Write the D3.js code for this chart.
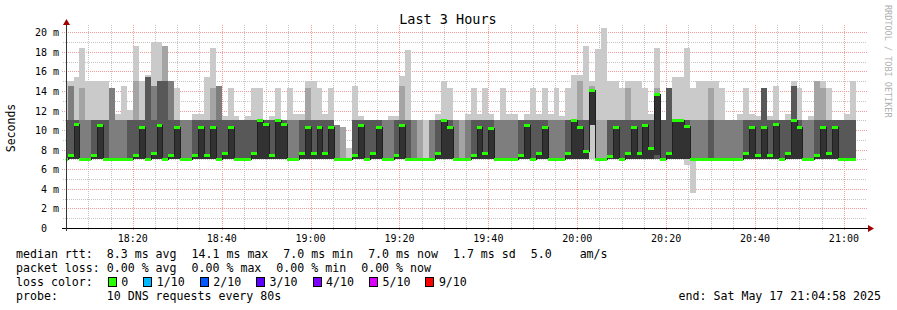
<!DOCTYPE html>
<html>
<head>
<meta charset="utf-8">
<script src="https://cdn.jsdelivr.net/npm/d3@7"></script>
<style>
  body { margin: 0; background: #fff; }
  text { font-family: "DejaVu Sans Mono", monospace; fill: #000; }
</style>
</head>
<body>
<svg id="chart" width="897" height="310"></svg>
<script>
// median rtt per 80s step (ms), 18:04 .. 21:02
const median = [
  7.0,7.5,10.6,7.0,7.0,7.5,10.5,7.0,7.0,7.0,
  7.0,7.0,7.5,10.3,7.0,7.7,10.5,7.0,7.5,10.3,
  7.0,7.0,7.5,10.3,7.5,10.3,7.0,7.7,10.3,7.0,
  7.0,7.0,7.7,11.0,10.6,7.5,11.0,10.6,7.0,7.0,
  7.7,10.3,7.7,10.3,7.7,10.3,7.0,7.0,7.0,7.5,
  10.5,7.0,7.7,10.3,7.0,7.0,7.5,10.5,7.0,7.0,
  7.0,7.0,7.0,7.7,11.0,10.3,7.0,7.0,7.0,7.5,
  10.3,7.7,10.2,7.0,7.0,7.0,7.0,7.5,10.5,7.0,
  7.7,10.3,7.0,7.0,7.0,7.7,11.0,10.3,7.9,14.1,
  7.0,7.0,7.4,10.3,7.0,7.7,10.3,7.7,10.5,8.2,
  13.7,7.0,7.7,11.0,11.0,10.4,7.0,7.0,7.0,7.0,
  7.0,7.0,7.0,7.0,7.0,7.7,10.3,7.5,10.3,7.5,
  10.6,7.0,7.7,11.0,10.3,7.0,7.0,7.5,10.3,7.7,
  10.3,7.0,7.0,7.0
];

// sorted ping values per step (ms), ping1 = fastest .. ping10 = slowest
const ping1 = [
  7,7,7,7,7,7,7,7,7,7, 7,7,7,7,7,7,7,7,7,7, 7,7,7,7,7,7,7,7,7,7,
  7,7,7,7,7,7,7,7,7,7, 7,7,7,7,7,7,7,7,7,7, 7,7,7,7,7,7,7,7,7,7,
  7,7,7,7,7,7,7,7,7,7, 7,7,7,7,7,7,7,7,7,7, 7,7,7,7,7,7,7,7,7,7,
  7,7,7,7,7,7,7,7,7,7, 7,7,7,7,7,6.4,3.6,7,7,7, 7,7,7,7,7,7,7,7,7,7,
  7,7,7,7,7,7,7,7,7,7, 7,7,7,7
];
const ping2 = [
  7,7,7,7,7,7,7,7,7,7, 7,7,7,7,7,7,7,7,7,7, 7,7,7,7,7,7,7,7,7,7,
  7,7,7,7,7,7,7,7,7,7, 7,7,7,7,7,7,7,7,7,7, 7,7,7,7,7,7,7,7,7,7,
  7,7,7,7,7,7,7,7,7,7, 7,7,7,7,7,7,7,7,7,7, 7,7,7,7,7,7,7,7,7,10.5,
  7,7,7,7,7,7,7,7,7,7, 7,7,7,7,7,7,7,7,7,7, 7,7,7,7,7,7,7,7,7,7,
  7,7,7,7,7,7,7,7,7,7, 7,7,7,7
];
const ping3 = ping2.slice();
const ping4 = ping2.slice();
const ping5 = [
  7,7,7,7,7,7,7,7,7,7, 7,7,7,7,7,7,7,7,7,7, 7,7,7,7,7,7,7,7,7,7,
  7,7,7,7,7,7,7,7,7,7, 7,7,7,7,7,7,7,7,7,7, 7,7,7,7,7,7,7,7,7,7,
  7,7,7,7,7,7,7,7,7,7, 7,7,7,7,7,7,7,7,7,7, 7,7,7,7,7,7,7,7,7,10.5,
  7,7,7,7,7,7,7,7,7,7, 7.5,7,7,7,7,7,7,7,7,7, 7,7,7,7,7,7,7,7,7,7,
  7,7,7,7,7,7,7,7,7,7, 7,7,7,7
];
const ping6 = median.slice();
const ping7 = [
  11,11,11,7,7,11,11,11,7,7,
  7,11,11,11,15.4,11,15,15,11,11,
  7,7,11,11,11,11,11,11,11,11,
  11,11,11,11,11,11,11,11,7,7,
  11,11,11,11,11,11,7,7,7,11,
  11,11,11,11,7,7,11,11,11,7,
  7,7,7,11,11,11,7,7,7,11,
  11,11,11,7,7,7,7,11,11,11,
  11,11,7,7,7,11,11,11,11,14.1,
  7,7,11,11,11,11,11,11,11,11,
  13.7,11,14.3,11,11,11,7,7,7,11,
  7,7,7,7,7,11,11,11,14.3,11,
  11,11,11,14.5,11,7,7,11,11,11,
  11,11,11,11
];
const ping8 = [
  11,14.5,11,11,11,11,11,11,14.3,11,
  11,11,11,11,15.4,14.5,15,15,15,11,
  11,11,11,11,11,11,14.5,11,11,11,
  11,11,11,11,11,11,11,11,11,11,
  11,11,11,11,11,11,10.5,7,7,11,
  11,11,11,11,11,11,11,11,11,11,
  7,7,11,11,11,11,11,7,11,11,
  11,11,11,11,11,11,11,11,11,11,
  11,11,11,11,11,11,11,11,11,14.1,
  7,7,11,11,11,11,11,11,11,11,
  13.7,11,14.3,11,11,11,11,11,11,11,
  11,11,11,11,11,11,11,11,14.3,11,
  11,11,11,14.5,11,11,11,11,11,11,
  11,11,11,11
];
const ping9 = [
  11,14.5,11,14.3,11,11,11,11,14.3,11,
  11,11,15,11,15.4,14.5,15,18.6,15,11,
  11,11,11,11,11,14.3,14.5,11,11,11,
  11,11,11,11,11,11,11,11,11,11,
  11,14.3,11,11,11,11,10.5,10.3,7,11,
  11,11,11,11,11,11,11,14.5,11,11,
  11,7,11,11,11,11,11,11,11,11,
  11,11,11,11,11,11,11,11,11,11,
  11,11,11,11,11,11,11,15,11,14.5,
  11,11,11,11,11,14.3,11,11,11,11,
  14.3,11,14.3,11,11,11,11,11,11,14.3,
  11,11,11,11,11,11,11,11,14.3,11,
  11,11,11,14.5,11,11,11,15,14.3,11,
  11,11,11,11
];
const ping10 = [
  15.0,15.0,15.4,18.4,15.0,15.0,15.0,15.0,14.3,11.6,
  14.5,12.1,18.6,15.0,15.6,19.0,19.0,18.6,15.0,14.3,
  11.0,11.0,11.6,11.6,15.4,18.4,14.5,11.4,14.3,11.4,
  11.0,11.4,14.3,14.3,11.0,11.4,14.3,11.0,14.3,11.6,
  11.6,15.0,15.0,14.3,11.6,14.3,10.5,10.3,8.2,14.5,
  11.4,11.0,11.0,11.0,11.0,11.4,11.4,15.5,18.2,11.0,
  11.0,11.0,11.0,11.6,15.0,14.3,11.0,11.0,11.6,14.3,
  11.6,14.3,11.6,11.0,14.3,11.6,11.6,11.0,11.6,14.3,
  11.6,14.3,11.6,14.3,11.4,14.3,15.6,15.6,18.6,15.0,
  18.3,20.4,15.0,15.0,14.3,15.0,15.0,15.0,14.3,11.6,
  18.4,11.0,14.3,15.4,15.4,18.4,14.3,15.0,15.0,15.0,
  15.0,14.3,11.0,11.0,11.6,14.3,11.6,11.4,14.3,11.4,
  14.5,11.0,11.6,15.0,14.3,11.0,11.4,15.0,15.0,14.3,
  11.0,11.0,11.6,15.0
];

const yTicks = [0, 2, 4, 6, 8, 10, 12, 14, 16, 18, 20];
const lossLabels = ['0', '1/10', '2/10', '3/10', '4/10', '5/10', '9/10'];
const lossColors = ['#26ff00', '#00b8ff', '#0059ff', '#5e00ff', '#7e00ff', '#dd00ff', '#ff0000'];
const statsRtt = ['median rtt:  8.3 ms avg', '14.1 ms max', '7.0 ms min', '7.0 ms now', '1.7 ms sd', '5.0    am/s'];
const statsLoss = ['packet loss: 0.00 % avg', '0.00 % max', '0.00 % min', '0.00 % now'];

const svg = d3.select('#chart');
const left = 66, right = 866, bottom = 228;
const tStart = new Date(2025, 4, 17, 18, 4, 58);
const tEnd = new Date(2025, 4, 17, 21, 4, 58);
const firstStep = new Date(2025, 4, 17, 18, 4, 0);
const stepMs = 80 * 1000;

const x = d3.scaleTime().domain([tStart, tEnd]).range([left, right]);
const y = d3.scaleLinear().domain([0, 20]).range([bottom, 32.2]);

const stepX0 = (i) => Math.max(left, Math.round(x(new Date(firstStep.getTime() + i * stepMs))));
const stepX1 = (i) => Math.round(x(new Date(firstStep.getTime() + (i + 1) * stepMs)));
const py = (v) => Math.round(y(v));

svg.append('rect').attr('width', 897).attr('height', 310).attr('fill', '#fff');

// grid
const grid = svg.append('g').attr('shape-rendering', 'crispEdges');
const minorT = x.ticks(d3.timeMinute.every(5)).filter((d) => d.getMinutes() % 20 !== 0);
const majorT = x.ticks(d3.timeMinute.every(20));
grid.selectAll('.vmin').data(minorT).enter().append('line')
  .attr('x1', (d) => Math.round(x(d)) + 0.5).attr('x2', (d) => Math.round(x(d)) + 0.5)
  .attr('y1', 25).attr('y2', 231)
  .attr('stroke', '#c4c4c4').attr('stroke-dasharray', '1,1');
d3.range(1, 21).filter((v) => v % 2 === 1).forEach((v) => {
  grid.append('line')
    .attr('x1', 63).attr('x2', 867).attr('y1', py(v) + 0.5).attr('y2', py(v) + 0.5)
    .attr('stroke', '#c4c4c4').attr('stroke-dasharray', '1,1');
});
grid.selectAll('.vmaj').data(majorT).enter().append('line')
  .attr('x1', (d) => Math.round(x(d)) + 0.5).attr('x2', (d) => Math.round(x(d)) + 0.5)
  .attr('y1', 25).attr('y2', 231)
  .attr('stroke', '#f29c9c').attr('stroke-dasharray', '1,1');
grid.selectAll('.hmaj').data(yTicks.slice(1)).enter().append('line')
  .attr('x1', 62).attr('x2', 867).attr('y1', (d) => py(d) + 0.5).attr('y2', (d) => py(d) + 0.5)
  .attr('stroke', '#f29c9c').attr('stroke-dasharray', '1,1');

// smoke
const plot = svg.append('g').attr('shape-rendering', 'crispEdges');
const pings = [ping1, ping2, ping3, ping4, ping5, ping6, ping7, ping8, ping9, ping10];
const smokeColors = ['#cacaca', '#a4a4a4', '#7e7e7e', '#585858', '#323232'];
const idx = d3.range(median.length);
smokeColors.forEach((c, k) => {
  const lo = pings[k], hi = pings[9 - k];
  plot.append('g').selectAll('rect').data(idx).enter().append('rect')
    .attr('x', (i) => stepX0(i))
    .attr('width', (i) => stepX1(i) - stepX0(i))
    .attr('y', (i) => py(hi[i]))
    .attr('height', (i) => Math.max(0, py(lo[i]) - py(hi[i])))
    .attr('fill', c);
});

// median line
const medPts = [];
idx.forEach((i) => { medPts.push([stepX0(i), py(median[i]) + 0.5]); });
medPts.push([stepX1(median.length - 1), py(median[median.length - 1]) + 0.5]);
plot.append('path')
  .attr('d', d3.line().curve(d3.curveStepAfter)(medPts))
  .attr('fill', 'none').attr('stroke', '#202020').attr('stroke-width', 1);

// loss-coloured median marks
plot.append('g').selectAll('rect').data(idx).enter().append('rect')
  .attr('x', (i) => stepX0(i))
  .attr('width', (i) => stepX1(i) - stepX0(i))
  .attr('y', (i) => py(median[i]) - 1)
  .attr('height', 3)
  .attr('fill', lossColors[0]);

// axes
const axes = svg.append('g').attr('shape-rendering', 'crispEdges');
axes.append('line').attr('x1', 62).attr('x2', 868).attr('y1', bottom + 0.5).attr('y2', bottom + 0.5).attr('stroke', '#000');
axes.append('line').attr('x1', left + 0.5).attr('x2', left + 0.5).attr('y1', 231).attr('y2', 24).attr('stroke', '#333');
svg.append('path').attr('d', `M868,${bottom - 3}L874,${bottom + 0.5}L868,${bottom + 4}Z`).attr('fill', '#a00000');
svg.append('path').attr('d', `M${left - 3},25L${left + 0.5},19L${left + 4},25Z`).attr('fill', '#a00000');

// y labels
svg.append('g').selectAll('text').data(yTicks).enter().append('text')
  .attr('x', 59).attr('y', (d) => py(d) + 4)
  .attr('text-anchor', 'end')
  .attr('xml:space', 'preserve')
  .style('white-space', 'pre')
  .style('font-size', '10px')
  .text((d) => (d === 0 ? '0  ' : d + ' m'));

// x labels
svg.append('g').selectAll('text').data(majorT).enter().append('text')
  .attr('x', (d) => x(d)).attr('y', 242)
  .attr('text-anchor', 'middle')
  .style('font-size', '10px')
  .text(d3.timeFormat('%H:%M'));

svg.append('text').attr('transform', 'translate(15,128) rotate(-90)')
  .attr('text-anchor', 'middle').style('font-size', '11.5px').text('Seconds');

svg.append('text').attr('x', 448).attr('y', 24).attr('text-anchor', 'middle')
  .style('font-size', '13.5px').text('Last 3 Hours');

svg.append('text').attr('transform', 'translate(885,5) rotate(90)')
  .style('font-size', '8.5px').style('fill', '#b0b0b0').text('RRDTOOL / TOBI OETIKER');

// legend: items laid out left to right with a fixed gap, like rrdtool does
const legend = svg.append('g').style('font-size', '11.6px');
const gap = 15;
function legendRow(items, yPos) {
  let cx = 16;
  items.forEach((s) => {
    const t = legend.append('text').attr('x', cx).attr('y', yPos)
      .attr('xml:space', 'preserve').style('white-space', 'pre').text(s);
    cx += t.node().getComputedTextLength() + gap;
  });
}
legendRow(statsRtt, 258);
legendRow(statsLoss, 272);

let lx = 16;
const lc = legend.append('text').attr('x', lx).attr('y', 286).text('loss color:');
lx += lc.node().getComputedTextLength() + gap;
lossLabels.forEach((s, i) => {
  legend.append('rect').attr('x', Math.round(lx) + 0.5).attr('y', 277.5).attr('width', 8).attr('height', 9)
    .attr('fill', lossColors[i]).attr('stroke', '#000').attr('shape-rendering', 'crispEdges');
  const t = legend.append('text').attr('x', lx + 13.5).attr('y', 286).text(s);
  lx += 13.5 + t.node().getComputedTextLength() + gap;
});
legend.append('text').attr('x', 16).attr('y', 300).attr('xml:space', 'preserve').style('white-space', 'pre')
  .text('probe:       10 DNS requests every 80s');
legend.append('text').attr('x', 881).attr('y', 300).attr('text-anchor', 'end').text('end: Sat May 17 21:04:58 2025');
</script>
</body>
</html>
